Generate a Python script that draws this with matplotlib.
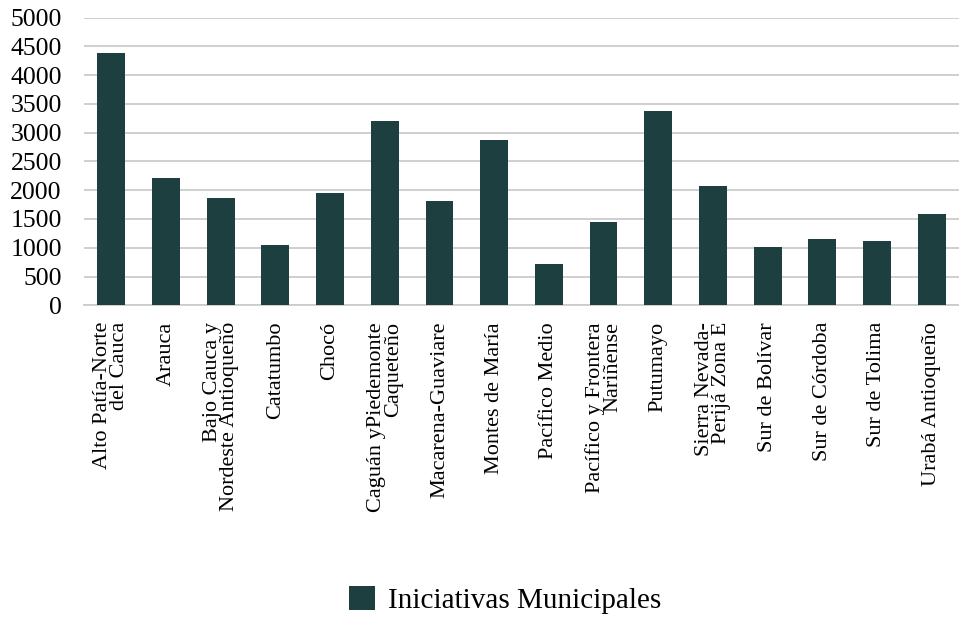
import matplotlib
matplotlib.use("Agg")
import matplotlib.pyplot as plt
import numpy as np

# Iniciativas municipales por subregión PDET
subregiones = [
    "Alto Patía-Norte\ndel Cauca",
    "Arauca",
    "Bajo Cauca y\nNordeste Antioqueño",
    "Catatumbo",
    "Chocó",
    "Caguán yPiedemonte\nCaqueteño",
    "Macarena-Guaviare",
    "Montes de María",
    "Pacífico Medio",
    "Pacífico y Frontera\nNariñense",
    "Putumayo",
    "Sierra Nevada-\nPerijá Zona E",
    "Sur de Bolívar",
    "Sur de Córdoba",
    "Sur de Tolima",
    "Urabá Antioqueño",
]
iniciativas = [4385, 2212, 1864, 1048, 1951, 3202, 1812, 2872,
               718, 1447, 3376, 2073, 1013, 1152, 1117, 1586]
y_ticks = [0, 500, 1000, 1500, 2000, 2500, 3000, 3500, 4000, 4500, 5000]

bar_color = "#1e3f40"
grid_color = "#cccccc"

plt.rcParams["font.family"] = ["Liberation Serif", "DejaVu Serif"]

fig = plt.figure(figsize=(9.59, 6.17), dpi=100)
ax = fig.add_axes([0.0876, 0.5052, 0.9124, 0.4664])

x = np.arange(len(subregiones))
ax.bar(x, iniciativas, width=0.51, color=bar_color,
       label="Iniciativas Municipales", zorder=3)

ax.set_xlim(-0.5, len(subregiones) - 0.5)
ax.set_ylim(0, 5000)
ax.set_yticks(y_ticks)
ax.set_yticklabels([str(v) for v in y_ticks], fontsize=18.5)
ax.yaxis.grid(True, color=grid_color, linewidth=1.3, zorder=0)
ax.set_axisbelow(True)

ax.set_xticks(x)
ax.set_xticklabels(subregiones, rotation=90, fontsize=16,
                   ha="center", va="top", multialignment="right",
                   linespacing=0.85)

ax.tick_params(axis="both", length=0)
ax.tick_params(axis="x", pad=12)
ax.tick_params(axis="y", pad=16)

for side in ["top", "right", "left"]:
    ax.spines[side].set_visible(False)
ax.spines["bottom"].set_color(grid_color)
ax.spines["bottom"].set_linewidth(1.3)

fig.legend(loc="center", bbox_to_anchor=(0.527, 0.028), frameon=False,
           fontsize=21, handlelength=0.88, handleheight=0.88,
           handletextpad=0.45)

fig.savefig("out.png", dpi=100)
